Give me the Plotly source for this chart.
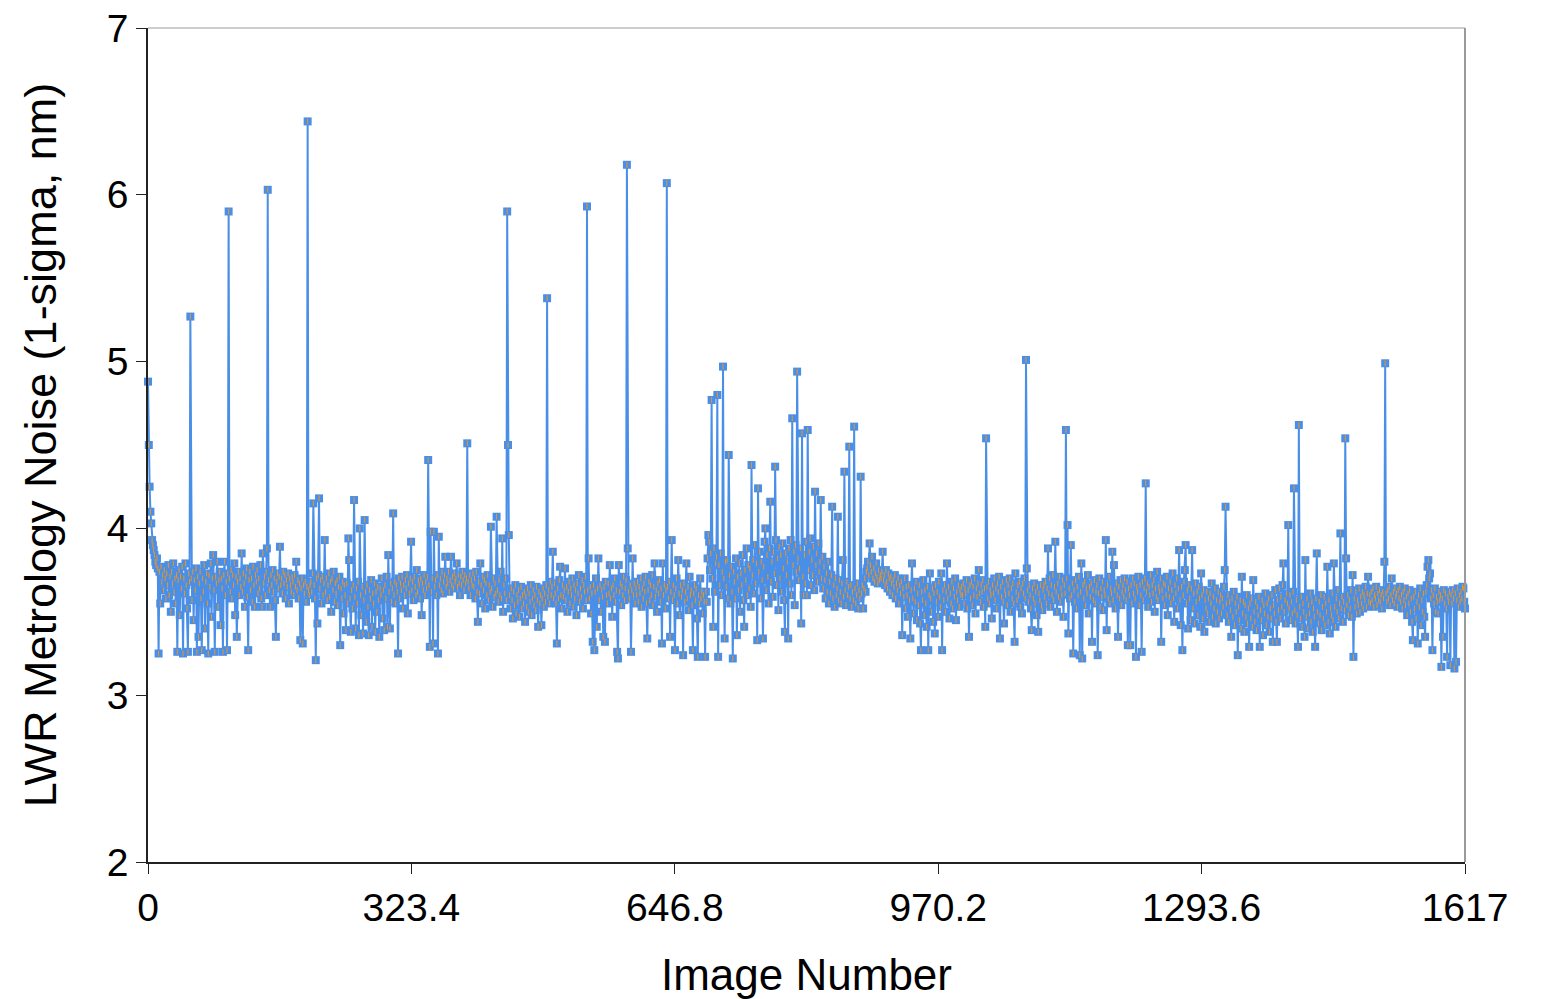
import plotly.graph_objects as go

# LWR metrology noise (1-sigma, nm) per image, images 0..1617
lwr_noise_nm = [
    # 0-99
    4.88, 4.50, 4.25, 4.10, 4.03, 3.93, 3.90, 3.87, 3.84, 3.80,
    3.78, 3.82, 3.76, 3.25, 3.74, 3.55, 3.77, 3.68, 3.72, 3.63,
    3.75, 3.70, 3.58, 3.73, 3.66, 3.78, 3.60, 3.71, 3.50, 3.74,
    3.67, 3.79, 3.62, 3.70, 3.55, 3.72, 3.26, 3.69, 3.75, 3.48,
    3.71, 3.64, 3.77, 3.25, 3.70, 3.61, 3.79, 3.66, 3.52, 3.26,
    3.73, 3.68, 5.27, 3.70, 3.57, 3.74, 3.45, 3.69, 3.63, 3.76,
    3.26, 3.71, 3.35, 3.67, 3.74, 3.58, 3.27, 3.70, 3.62, 3.78,
    3.40, 3.68, 3.73, 3.55, 3.25, 3.72, 3.65, 3.79, 3.47, 3.70,
    3.84, 3.63, 3.26, 3.71, 3.67, 3.80, 3.53, 3.69, 3.74, 3.42,
    3.70, 3.64, 3.26, 3.72, 3.80, 3.60, 3.68, 3.27, 3.73, 5.90,
    # 100-199
    3.70, 3.62, 3.75, 3.58, 3.72, 3.66, 3.79, 3.48, 3.71, 3.35,
    3.68, 3.74, 3.60, 3.70, 3.65, 3.85, 3.62, 3.73, 3.67, 3.53,
    3.71, 3.76, 3.59, 3.27, 3.69, 3.74, 3.63, 3.70, 3.56, 3.77,
    3.66, 3.53, 3.72, 3.68, 3.75, 3.61, 3.70, 3.64, 3.78, 3.58,
    3.53, 3.85, 3.67, 3.71, 3.60, 3.74, 3.88, 6.03, 3.69, 3.63,
    3.53, 3.72, 3.66, 3.75, 3.62, 3.70, 3.57, 3.35, 3.68, 3.73,
    3.64, 3.71, 3.89, 3.66, 3.70, 3.61, 3.74, 3.67, 3.72, 3.58,
    3.69, 3.65, 3.73, 3.55, 3.70, 3.66, 3.62, 3.71, 3.68, 3.60,
    3.72, 3.65, 3.80, 3.63, 3.69, 3.58, 3.67, 3.33, 3.64, 3.70,
    3.31, 3.66, 3.61, 3.68, 3.56, 3.65, 6.44, 3.63, 3.60, 3.66,
    # 200-299
    3.68, 3.62, 3.73, 4.15, 3.66, 3.58, 3.21, 3.70, 3.43, 3.72,
    4.18, 3.64, 3.69, 3.55, 3.71, 3.60, 3.67, 3.93, 3.62, 3.70,
    3.57, 3.66, 3.73, 3.59, 3.68, 3.50, 3.70, 3.63, 3.74, 3.56,
    3.67, 3.61, 3.69, 3.54, 3.65, 3.71, 3.30, 3.64, 3.58, 3.68,
    3.49, 3.66, 3.60, 3.39, 3.67, 3.55, 3.94, 3.81, 3.58, 3.38,
    3.63, 3.52, 3.66, 4.17, 3.59, 3.40, 3.64, 3.55, 3.68, 3.36,
    4.00, 3.60, 3.48, 3.65, 3.37, 3.57, 4.05, 3.62, 3.44, 3.66,
    3.53, 3.36, 3.63, 3.58, 3.69, 3.41, 3.61, 3.55, 3.67, 3.38,
    3.62, 3.50, 3.65, 3.57, 3.35, 3.64, 3.60, 3.70, 3.46, 3.63,
    3.39, 3.66, 3.58, 3.71, 3.41, 3.84, 3.62, 3.40, 3.67, 3.56,
    # 300-399
    3.64, 4.09, 3.60, 3.68, 3.55, 3.66, 3.62, 3.25, 3.70, 3.58,
    3.67, 3.63, 3.71, 3.52, 3.66, 3.60, 3.69, 3.64, 3.72, 3.49,
    3.67, 3.61, 3.70, 3.92, 3.63, 3.68, 3.57, 3.71, 3.65, 3.60,
    3.75, 3.62, 3.69, 3.66, 3.58, 3.70, 3.48, 3.67, 3.63, 3.72,
    3.60, 3.68, 3.64, 3.71, 4.41, 3.66, 3.29, 3.98, 3.62, 3.70,
    3.31, 3.98, 3.65, 3.69, 3.60, 3.72, 3.25, 3.95, 3.66, 3.70,
    3.63, 3.74, 3.61, 3.68, 3.72, 3.83, 3.65, 3.70, 3.67, 3.74,
    3.62, 3.69, 3.83, 3.66, 3.71, 3.64, 3.73, 3.68, 3.70, 3.79,
    3.65, 3.72, 3.67, 3.60, 3.71, 3.66, 3.74, 3.69, 3.63, 3.72,
    3.67, 3.70, 4.51, 3.68, 3.64, 3.72, 3.60, 3.69, 3.66, 3.73,
    # 400-499
    3.65, 3.70, 3.58, 3.74, 3.62, 3.44, 3.68, 3.61, 3.79, 3.66,
    3.55, 3.71, 3.63, 3.69, 3.52, 3.67, 3.60, 3.72, 3.57, 3.66,
    3.62, 4.01, 3.64, 3.53, 3.70, 3.59, 3.67, 3.61, 4.07, 3.63,
    3.56, 3.69, 3.60, 3.74, 3.58, 3.94, 3.50, 3.66, 3.61, 3.70,
    3.57, 5.90, 4.50, 3.96, 3.60, 3.52, 3.64, 3.57, 3.46, 3.62,
    3.54, 3.66, 3.49, 3.60, 3.56, 3.63, 3.47, 3.58, 3.65, 3.52,
    3.60, 3.55, 3.62, 3.44, 3.59, 3.53, 3.64, 3.50, 3.61, 3.56,
    3.66, 3.48, 3.58, 3.63, 3.54, 3.60, 3.51, 3.65, 3.57, 3.41,
    3.62, 3.55, 3.60, 3.42, 3.58, 3.64, 3.53, 3.61, 3.56, 3.66,
    5.38, 3.59, 3.63, 3.55, 3.68, 3.60, 3.65, 3.86, 3.58, 3.67,
    # 500-599
    3.61, 3.55, 3.31, 3.64, 3.58, 3.69, 3.77, 3.60, 3.52, 3.66,
    3.59, 3.63, 3.76, 3.57, 3.65, 3.50, 3.62, 3.68, 3.55, 3.64,
    3.60, 3.70, 3.53, 3.66, 3.58, 3.63, 3.48, 3.67, 3.61, 3.72,
    3.56, 3.64, 3.59, 3.69, 3.52, 3.66, 3.62, 3.71, 3.57, 5.93,
    3.63, 3.82, 3.58, 3.65, 3.49, 3.61, 3.32, 3.66, 3.27, 3.62,
    3.70, 3.41, 3.64, 3.82, 3.57, 3.66, 3.50, 3.63, 3.59, 3.35,
    3.65, 3.32, 3.68, 3.60, 3.55, 3.67, 3.61, 3.78, 3.58, 3.64,
    3.47, 3.66, 3.60, 3.70, 3.56, 3.63, 3.26, 3.22, 3.78, 3.62,
    3.67, 3.54, 3.65, 3.60, 3.71, 3.57, 3.64, 3.69, 6.18, 3.88,
    3.62, 3.58, 3.66, 3.26, 3.63, 3.82, 3.60, 3.67, 3.55, 3.64,
    # 600-699
    3.60, 3.68, 3.56, 3.65, 3.61, 3.70, 3.53, 3.64, 3.58, 3.67,
    3.62, 3.71, 3.55, 3.34, 3.63, 3.68, 3.57, 3.66, 3.60, 3.72,
    3.54, 3.65, 3.79, 3.59, 3.63, 3.50, 3.67, 3.61, 3.69, 3.56,
    3.64, 3.31, 3.79, 3.60, 3.66, 3.52, 3.63, 6.07, 3.65, 3.58,
    3.68, 3.35, 3.62, 3.93, 3.57, 3.66, 3.60, 3.27, 3.64, 3.70,
    3.55, 3.81, 3.61, 3.48, 3.66, 3.59, 3.63, 3.24, 3.67, 3.56,
    3.62, 3.79, 3.58, 3.65, 3.51, 3.71, 3.60, 3.63, 3.54, 3.27,
    3.61, 3.66, 3.57, 3.64, 3.46, 3.23, 3.60, 3.55, 3.70, 3.58,
    3.62, 3.49, 3.60, 3.56, 3.23, 3.62, 3.56, 3.82, 3.96, 3.92,
    3.75, 3.85, 4.77, 3.70, 3.41, 3.88, 3.62, 3.79, 3.83, 4.80,
    # 700-799
    3.23, 3.78, 3.66, 3.85, 3.60, 3.74, 4.97, 3.70, 3.34, 3.80,
    3.65, 3.81, 3.58, 4.44, 3.72, 3.55, 3.77, 3.62, 3.22, 3.74,
    3.68, 3.58, 3.82, 3.36, 3.71, 3.63, 3.79, 3.50, 3.73, 3.66,
    3.84, 3.57, 3.41, 3.75, 3.69, 3.88, 3.60, 3.78, 3.64, 3.76,
    3.53, 4.38, 3.72, 3.81, 3.61, 3.90, 3.67, 3.79, 3.33, 4.24,
    3.74, 3.86, 3.58, 3.80, 3.69, 3.34, 3.77, 3.92, 4.00, 3.63,
    3.84, 3.71, 3.55, 3.88, 4.16, 3.68, 3.80, 3.59, 3.86, 3.73,
    4.37, 3.93, 3.66, 3.82, 3.51, 3.89, 3.70, 3.84, 3.62, 3.91,
    3.76, 3.57, 3.38, 3.85, 3.72, 3.80, 3.34, 3.88, 3.67, 3.93,
    3.60, 4.66, 3.78, 3.86, 3.54, 3.90, 3.74, 4.94, 3.82, 3.69,
    # 800-899
    3.76, 3.88, 3.43, 4.57, 3.71, 3.60, 3.84, 3.67, 3.92, 3.60,
    4.59, 3.75, 3.86, 3.94, 3.66, 3.81, 3.72, 3.89, 3.63, 4.22,
    3.78, 3.85, 3.68, 3.91, 3.74, 3.80, 4.17, 3.70, 3.83, 3.64,
    3.77, 3.69, 3.58, 3.73, 3.62, 3.80, 3.55, 3.68, 3.61, 3.72,
    4.13, 3.58, 3.66, 3.53, 3.70, 3.60, 3.64, 4.07, 3.57, 3.69,
    3.62, 3.55, 3.67, 3.81, 3.59, 4.34, 3.63, 3.54, 3.68, 3.60,
    3.65, 4.49, 3.58, 3.66, 3.53, 3.62, 3.57, 4.61, 3.64, 3.55,
    3.60, 3.67, 3.52, 3.63, 3.58, 4.31, 3.61, 3.66, 3.52, 3.64,
    3.70, 3.62, 3.74, 3.76, 3.80, 3.72, 3.91, 3.78, 3.74, 3.83,
    3.70, 3.76, 3.68, 3.73, 3.79, 3.71, 3.67, 3.75, 3.69, 3.72,
    # 900-999
    3.70, 3.74, 3.86, 3.69, 3.72, 3.66, 3.75, 3.68, 3.64, 3.73,
    3.70, 3.62, 3.71, 3.67, 3.60, 3.69, 3.65, 3.72, 3.58, 3.67,
    3.63, 3.70, 3.55, 3.66, 3.61, 3.68, 3.36, 3.64, 3.59, 3.70,
    3.52, 3.65, 3.60, 3.47, 3.66, 3.57, 3.34, 3.63, 3.79, 3.58,
    3.49, 3.64, 3.56, 3.68, 3.45, 3.61, 3.54, 3.66, 3.43, 3.27,
    3.62, 3.57, 3.69, 3.48, 3.63, 3.55, 3.41, 3.65, 3.27, 3.60,
    3.73, 3.58, 3.50, 3.64, 3.44, 3.61, 3.37, 3.66, 3.56, 3.62,
    3.47, 3.68, 3.59, 3.53, 3.73, 3.27, 3.63, 3.57, 3.66, 3.50,
    3.62, 3.79, 3.58, 3.65, 3.46, 3.61, 3.55, 3.68, 3.52, 3.64,
    3.59, 3.70, 3.45, 3.62, 3.57, 3.66, 3.53, 3.63, 3.60, 3.65,
    # 1000-1099
    3.60, 3.67, 3.55, 3.64, 3.61, 3.69, 3.52, 3.63, 3.35, 3.66,
    3.58, 3.68, 3.54, 3.65, 3.60, 3.70, 3.49, 3.64, 3.59, 3.67,
    3.75, 3.61, 3.56, 3.66, 3.62, 3.69, 3.53, 3.64, 3.41, 4.54,
    3.65, 3.58, 3.68, 3.55, 3.63, 3.60, 3.46, 3.66, 3.61, 3.70,
    3.57, 3.64, 3.52, 3.67, 3.62, 3.71, 3.34, 3.65, 3.59, 3.68,
    3.56, 3.43, 3.63, 3.60, 3.69, 3.54, 3.66, 3.61, 3.70, 3.50,
    3.64, 3.58, 3.67, 3.55, 3.32, 3.73, 3.62, 3.57, 3.66, 3.60,
    3.68, 3.53, 3.64, 3.49, 3.67, 3.61, 3.70, 3.58, 5.01, 3.76,
    3.63, 3.56, 3.66, 3.60, 3.52, 3.39, 3.64, 3.58, 3.67, 3.55,
    3.62, 3.48, 3.65, 3.38, 3.61, 3.57, 3.66, 3.54, 3.51, 3.63,
    # 1100-1199
    3.66, 3.59, 3.68, 3.55, 3.64, 3.88, 3.61, 3.70, 3.53, 3.66,
    3.60, 3.72, 3.57, 3.65, 3.92, 3.62, 3.50, 3.67, 3.59, 3.71,
    3.56, 3.64, 3.60, 3.69, 3.47, 3.66, 3.61, 4.59, 3.70, 4.02,
    3.37, 3.64, 3.58, 3.90, 3.60, 3.67, 3.25, 3.63, 3.56, 3.69,
    3.52, 3.65, 3.60, 3.71, 3.24, 3.62, 3.79, 3.22, 3.66, 3.58,
    3.68, 3.54, 3.64, 3.61, 3.72, 3.49, 3.65, 3.59, 3.67, 3.32,
    3.63, 3.57, 3.69, 3.55, 3.62, 3.66, 3.24, 3.61, 3.70, 3.53,
    3.64, 3.59, 3.68, 3.51, 3.63, 3.60, 3.93, 3.39, 3.66, 3.58,
    3.71, 3.55, 3.64, 3.61, 3.86, 3.57, 3.78, 3.63, 3.52, 3.67,
    3.60, 3.35, 3.65, 3.58, 3.69, 3.54, 3.62, 3.66, 3.59, 3.70,
    # 1200-1299
    3.63, 3.57, 3.68, 3.30, 3.64, 3.60, 3.30, 3.66, 3.55, 3.70,
    3.61, 3.67, 3.58, 3.23, 3.65, 3.62, 3.71, 3.54, 3.66, 3.60,
    3.26, 3.68, 3.57, 3.64, 3.70, 4.27, 3.62, 3.67, 3.53, 3.65,
    3.60, 3.72, 3.56, 3.66, 3.61, 3.69, 3.50, 3.64, 3.59, 3.74,
    3.57, 3.65, 3.62, 3.70, 3.32, 3.63, 3.58, 3.67, 3.54, 3.66,
    3.60, 3.71, 3.48, 3.64, 3.59, 3.68, 3.55, 3.63, 3.73, 3.58,
    3.44, 3.66, 3.61, 3.70, 3.52, 3.64, 3.87, 3.57, 3.42, 3.65,
    3.27, 3.60, 3.68, 3.75, 3.90, 3.55, 3.63, 3.40, 3.66, 3.58,
    3.45, 3.64, 3.87, 3.52, 3.61, 3.43, 3.67, 3.56, 3.62, 3.48,
    3.65, 3.58, 3.41, 3.73, 3.60, 3.46, 3.63, 3.38, 3.57, 3.52,
    # 1300-1399
    3.62, 3.49, 3.58, 3.44, 3.61, 3.55, 3.67, 3.47, 3.59, 3.52,
    3.64, 3.43, 3.57, 3.50, 3.62, 3.46, 3.56, 3.60, 3.49, 3.58,
    3.53, 3.65, 3.75, 4.13, 3.55, 3.48, 3.60, 3.44, 3.56, 3.51,
    3.35, 3.58, 3.47, 3.62, 3.42, 3.55, 3.50, 3.59, 3.24, 3.53,
    3.45, 3.57, 3.40, 3.71, 3.49, 3.56, 3.38, 3.54, 3.47, 3.60,
    3.43, 3.52, 3.29, 3.55, 3.46, 3.58, 3.41, 3.69, 3.50, 3.44,
    3.56, 3.39, 3.53, 3.48, 3.59, 3.29, 3.51, 3.45, 3.57, 3.36,
    3.54, 3.49, 3.61, 3.42, 3.55, 3.47, 3.58, 3.38, 3.52, 3.46,
    3.60, 3.32, 3.54, 3.49, 3.63, 3.44, 3.32, 3.57, 3.51, 3.64,
    3.46, 3.59, 3.53, 3.66, 3.79, 3.50, 3.57, 3.43, 3.61, 3.55,
    # 1400-1499
    4.02, 3.52, 3.60, 3.45, 3.56, 3.49, 3.62, 4.24, 3.51, 3.43,
    3.57, 3.48, 3.29, 4.62, 3.53, 3.46, 3.59, 3.41, 3.55, 3.50,
    3.35, 3.81, 3.47, 3.58, 3.40, 3.54, 3.49, 3.61, 3.44, 3.56,
    3.38, 3.52, 3.47, 3.29, 3.58, 3.85, 3.50, 3.43, 3.56, 3.48,
    3.60, 3.39, 3.53, 3.46, 3.59, 3.42, 3.55, 3.50, 3.77, 3.44,
    3.57, 3.37, 3.52, 3.48, 3.61, 3.45, 3.79, 3.53, 3.41, 3.58,
    3.50, 3.63, 3.46, 3.55, 3.97, 3.52, 3.59, 3.44, 3.56, 3.51,
    4.54, 3.82, 3.54, 3.60, 3.48, 3.57, 3.52, 3.63, 3.47, 3.72,
    3.23, 3.58, 3.53, 3.62, 3.49, 3.57, 3.54, 3.64, 3.50, 3.59,
    3.55, 3.62, 3.52, 3.60, 3.57, 3.65, 3.53, 3.61, 3.71, 3.56,
    # 1500-1599
    3.60, 3.55, 3.62, 3.57, 3.64, 3.53, 3.60, 3.58, 3.65, 3.54,
    3.61, 3.57, 3.63, 3.56, 3.60, 3.52, 3.62, 3.58, 3.80, 4.99,
    3.61, 3.56, 3.63, 3.58, 3.65, 3.54, 3.60, 3.70, 3.57, 3.62,
    3.55, 3.64, 3.59, 3.61, 3.53, 3.63, 3.58, 3.65, 3.56, 3.60,
    3.52, 3.62, 3.57, 3.64, 3.54, 3.59, 3.48, 3.61, 3.55, 3.63,
    3.50, 3.58, 3.44, 3.33, 3.59, 3.52, 3.62, 3.46, 3.56, 3.31,
    3.60, 3.53, 3.64, 3.42, 3.57, 3.50, 3.61, 3.47, 3.35, 3.62,
    3.66, 3.77, 3.81, 3.70, 3.73, 3.58, 3.63, 3.27, 3.60, 3.55,
    3.64, 3.50, 3.59, 3.56, 3.49, 3.62, 3.57, 3.60, 3.17, 3.58,
    3.35, 3.63, 3.55, 3.61, 3.52, 3.23, 3.59, 3.56, 3.62, 3.18,
    # 1600-1617
    3.60, 3.55, 3.63, 3.58, 3.16, 3.61, 3.20, 3.57, 3.64, 3.53,
    3.60, 3.56, 3.62, 3.58, 3.65, 3.64, 3.56, 3.52,
]
image_number = list(range(len(lwr_noise_nm)))

x_tick_values = [0, 323.4, 646.8, 970.2, 1293.6, 1617]
x_tick_labels = ["0", "323.4", "646.8", "970.2", "1293.6", "1617"]
y_tick_values = [2, 3, 4, 5, 6, 7]

BLUE = "#4a8fe7"
ORANGE = "#f39419"
FONT = "Liberation Sans, Arial, sans-serif"

fig = go.Figure()

# connecting line with blue square markers
fig.add_trace(go.Scatter(
    x=image_number, y=lwr_noise_nm,
    mode="lines+markers",
    line=dict(color=BLUE, width=2),
    marker=dict(symbol="square", size=8, color=BLUE,
                line=dict(width=0)),
    cliponaxis=False,
    showlegend=False,
))

# small orange tick inside each marker
fig.add_trace(go.Scatter(
    x=image_number, y=lwr_noise_nm,
    mode="markers",
    marker=dict(symbol="line-ns", size=4,
                line=dict(color=ORANGE, width=1)),
    cliponaxis=False,
    showlegend=False,
    hoverinfo="skip",
))

axis_common = dict(
    showgrid=False, zeroline=False, automargin=False,
    showline=True, linecolor="#222222", linewidth=1.5,
    ticks="outside", ticklen=10, tickwidth=1, tickcolor="#222222",
    tickfont=dict(family=FONT, size=39, color="#000000"),
)

fig.update_layout(
    width=1542, height=999,
    margin=dict(l=148, r=77, t=28, b=137),
    paper_bgcolor="white", plot_bgcolor="white",
    font=dict(family=FONT, color="#000000"),
    xaxis=dict(
        range=[0, 1617], tickvals=x_tick_values, ticktext=x_tick_labels,
        title=dict(text="Image Number", font=dict(family=FONT, size=44), standoff=32),
        **axis_common,
    ),
    yaxis=dict(
        range=[2, 7], tickvals=y_tick_values,
        title=dict(text="LWR Metrology Noise (1-sigma, nm)",
                   font=dict(family=FONT, size=45), standoff=36),
        **axis_common,
    ),
    shapes=[
        dict(type="line", xref="paper", yref="paper", x0=0, x1=1, y0=1, y1=1,
             line=dict(color="#9a9a9a", width=1)),
        dict(type="line", xref="paper", yref="paper", x0=1, x1=1, y0=0, y1=1,
             line=dict(color="#9a9a9a", width=2)),
    ],
)

fig.write_html("out.html")
